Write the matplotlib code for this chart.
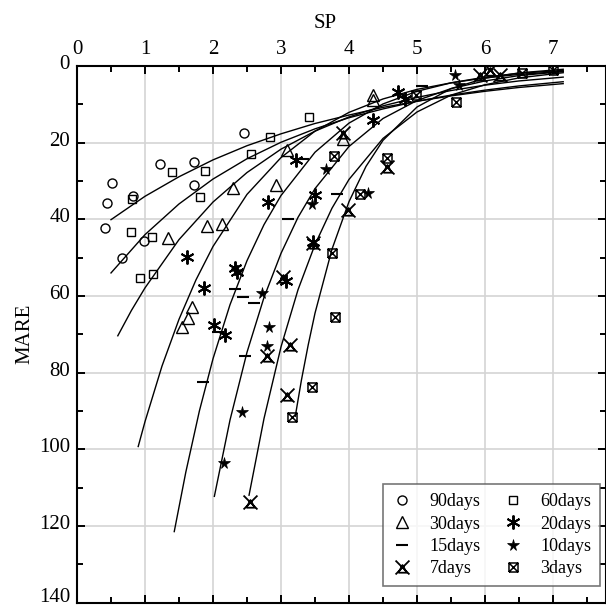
import numpy as np
import matplotlib
matplotlib.use("Agg")
import matplotlib.pyplot as plt
from matplotlib.path import Path
from matplotlib.transforms import ScaledTranslation

plt.rcParams['font.family'] = ['Liberation Serif', 'DejaVu Serif']
plt.rcParams['mathtext.fontset'] = 'stix'

# scatter data (SP, MARE)
sp_90 = [0.41, 0.44, 0.51, 0.66, 0.82, 0.99, 1.22, 1.72, 1.72, 2.46]
mare_90 = [42.2, 35.7, 30.5, 50.0, 33.9, 45.6, 25.5, 25.0, 31.0, 17.5]

sp_60 = [0.79, 0.81, 0.93, 1.10, 1.12, 1.40, 1.81, 1.88, 2.56, 2.84, 3.41]
mare_60 = [43.2, 34.7, 55.3, 44.5, 54.3, 27.6, 34.2, 27.4, 22.9, 18.5, 13.3]

sp_30 = [1.34, 1.54, 1.63, 1.69, 1.91, 2.13, 2.29, 2.93, 3.09, 3.91, 4.36, 4.36]
mare_30 = [44.9, 68.0, 65.8, 62.8, 41.7, 41.2, 31.8, 31.0, 21.9, 19.0, 7.5, 9.0]

sp_20 = [1.62, 1.87, 2.01, 2.18, 2.32, 2.35, 2.81, 3.07, 3.22, 3.47, 3.50, 4.36, 4.72, 4.82]
mare_20 = [49.8, 57.9, 67.5, 70.1, 52.7, 53.7, 35.5, 56.0, 24.5, 46.0, 33.6, 14.1, 6.8, 8.6]

sp_15 = [1.85, 2.07, 2.32, 2.44, 2.47, 2.60, 3.10, 3.33, 3.82, 5.07]
mare_15 = [82.4, 69.3, 58.2, 60.2, 75.6, 61.8, 39.9, 24.3, 33.4, 5.2]

sp_10 = [2.16, 2.43, 2.72, 2.79, 2.82, 3.46, 3.66, 4.28, 5.56, 5.62]
mare_10 = [103.5, 90.2, 59.2, 73.0, 68.0, 36.0, 26.9, 33.1, 2.3, 5.0]

sp_7 = [2.54, 2.79, 3.03, 3.09, 3.13, 3.47, 3.91, 3.99, 4.56, 5.93, 6.07, 6.22]
mare_7 = [113.9, 75.8, 55.0, 85.8, 72.7, 46.1, 17.5, 37.5, 26.3, 2.3, 1.0, 2.3]

sp_3 = [3.16, 3.45, 3.75, 3.79, 3.78, 4.16, 4.56, 4.99, 5.57, 6.54, 7.0]
mare_3 = [91.5, 83.7, 48.8, 65.5, 23.5, 33.4, 24.0, 7.6, 9.3, 1.8, 1.0]

# fitted curves, points
fit_90_x = [0.5, 1.0, 1.5, 2.0, 2.5, 3.0, 3.5, 4.0, 4.5, 5.0, 5.5, 6.0, 6.5, 7.15]
fit_90_y = [40.1, 34.0, 28.9, 24.5, 20.8, 17.7, 15.0, 12.8, 10.8, 9.2, 7.8, 6.6, 5.6, 4.6]

fit_60_x = [0.5, 1.0, 1.5, 2.0, 2.5, 3.0, 3.5, 4.0, 4.5, 5.0, 5.5, 6.0, 6.5, 7.15]
fit_60_y = [54.0, 44.0, 36.0, 29.5, 24.2, 19.9, 16.4, 13.5, 11.2, 9.2, 7.6, 6.3, 5.2, 4.1]

fit_30_x = [0.6, 0.8, 1.0, 1.5, 2.0, 2.5, 3.0, 3.5, 4.0, 4.5, 5.0, 5.5, 6.0, 6.5, 7.15]
fit_30_y = [70.4, 63.8, 57.9, 45.3, 35.5, 27.8, 21.7, 17.0, 13.3, 10.4, 8.2, 6.4, 5.0, 3.9, 2.9]

fit_20_x = [0.9, 1.0, 1.25, 1.5, 1.75, 2.0, 2.5, 3.0, 3.5, 4.0, 4.5, 5.0, 5.5, 6.0, 6.5, 7.15]
fit_20_y = [99.3, 92.8, 78.3, 66.1, 55.8, 47.1, 33.5, 23.9, 17.0, 12.1, 8.6, 6.1, 4.4, 3.1, 2.2, 1.4]

fit_15_x = [1.43, 1.6, 1.8, 2.0, 2.25, 2.5, 2.75, 3.0, 3.5, 4.0, 4.5, 5.0, 5.5, 6.0, 6.5, 7.15]
fit_15_y = [121.5, 106.0, 90.0, 76.4, 62.3, 50.8, 41.4, 33.8, 22.5, 14.9, 9.9, 6.6, 4.4, 2.9, 1.9, 1.15]

fit_10_x = [2.02, 2.25, 2.5, 2.75, 3.0, 3.25, 3.5, 4.0, 4.5, 5.0, 5.5, 6.0, 6.5, 7.15]
fit_10_y = [112.3, 92.4, 74.7, 60.4, 48.9, 39.5, 32.0, 21.0, 13.7, 9.0, 5.9, 3.9, 2.5, 1.45]

fit_7_x = [2.53, 2.75, 3.0, 3.25, 3.5, 3.75, 4.0, 4.5, 5.0, 5.5, 6.0, 6.5, 7.15]
fit_7_y = [112.0, 92.0, 73.3, 58.4, 46.6, 37.1, 29.6, 18.9, 12.0, 7.6, 4.9, 3.1, 1.75]

fit_3_x = [3.21, 3.3, 3.4, 3.5, 3.75, 4.0, 4.25, 4.5, 5.0, 5.5, 6.0, 6.5, 7.15]
fit_3_y = [91.4, 82.0, 72.8, 64.5, 47.8, 35.4, 26.2, 19.4, 10.7, 5.9, 3.2, 1.8, 0.85]

x_ticks = [0, 1, 2, 3, 4, 5, 6, 7]
y_ticks = [0, 20, 40, 60, 80, 100, 120, 140]

# custom marker shapes
M, L = Path.MOVETO, Path.LINETO
crossed_sq = Path([(-1, -1), (1, -1), (1, 1), (-1, 1), (-1, -1),
                   (-1, -1), (1, 1), (-1, 1), (1, -1)],
                  [M, L, L, L, L, M, L, M, L])
x_tri = Path([(-1, -1), (1, 1), (-1, 1), (1, -1),
              (-0.6, -0.75), (0.6, -0.75), (0, 0.35), (-0.6, -0.75)],
             [M, L, M, L, M, L, L, L])

fig = plt.figure(figsize=(6.06, 6.09), dpi=100)
ax = fig.add_axes([77 / 606, 6.5 / 609, 529 / 606, 536.5 / 609])

curves = [(fit_90_x, fit_90_y), (fit_60_x, fit_60_y), (fit_30_x, fit_30_y),
          (fit_20_x, fit_20_y), (fit_15_x, fit_15_y), (fit_10_x, fit_10_y),
          (fit_7_x, fit_7_y), (fit_3_x, fit_3_y)]
for cx, cy in curves:
    ax.plot(cx, cy, color='black', lw=1.0, zorder=3)

kw = dict(linestyle='none', color='black', zorder=4)
ax.plot(sp_90, mare_90, marker='o', ms=6.5, mfc='none', mew=1.0, label='90days', **kw)
ax.plot(sp_60, mare_60, marker='s', ms=6, mfc='none', mew=1.0, label='60days', **kw)
ax.plot(sp_30, mare_30, marker='^', ms=8.5, mfc='none', mew=1.0, label='30days', **kw)
ax.plot(sp_20, mare_20, marker=(6, 2, 0), ms=10, mew=1.4, label='20days', **kw)
ax.plot(sp_15, mare_15, marker='_', ms=8, mew=1.5, label='15days', **kw)
ax.plot(sp_10, mare_10, marker='*', ms=8.5, mew=0.5, label='10days', **kw)
ax.plot(sp_7, mare_7, marker=x_tri, ms=10, mfc='none', mew=1.3, label='7days', **kw)
ax.plot(sp_3, mare_3, marker=crossed_sq, ms=6.5, mfc='none', mew=1.1, label='3days', **kw)

ax.set_xlim(0, 529 / 68)
ax.set_ylim(140, 0)
ax.set_xticks(x_ticks)
ax.set_xticks(np.arange(0.5, 8, 1.0), minor=True)
ax.set_yticks(y_ticks)
ax.set_yticks(np.arange(10, 140, 20), minor=True)

ax.grid(True, which='major', color='#d4d4d4', lw=1.2, zorder=0)
ax.set_axisbelow(True)

ax.tick_params(which='both', direction='in', top=True, bottom=True, left=True, right=True,
               labeltop=True, labelbottom=False, labelsize=15, width=1.4)
ax.tick_params(which='major', length=6, pad=5)
ax.tick_params(which='minor', length=4)
ax.xaxis.set_label_position('top')
ax.set_xlabel('SP', fontsize=15)
ax.xaxis.set_label_coords(0.469, 1.07)
ax.set_ylabel('MARE', fontsize=15)
ax.yaxis.set_label_coords(-0.08, 0.5)
for s in ax.spines.values():
    s.set_linewidth(1.5)

# y labels sit a touch above their ticks in the reference
ylabels = ax.get_yticklabels()
for i, t in enumerate(ylabels):
    up = 7 if i == len(ylabels) - 1 else 4
    t.set_transform(t.get_transform() + ScaledTranslation(0, up / 100, fig.dpi_scale_trans))

order = [0, 2, 4, 6, 1, 3, 5, 7]
h, lab = ax.get_legend_handles_labels()
leg = ax.legend([h[i] for i in order], [lab[i] for i in order], ncol=2,
                loc='lower right', bbox_to_anchor=(0.989, 0.03), borderaxespad=0,
                fontsize=13, frameon=True, fancybox=False, edgecolor='#555555',
                handlelength=1.2, handletextpad=0.9, columnspacing=1.2,
                labelspacing=0.3, borderpad=0.5)
leg.get_frame().set_linewidth(1.2)

fig.savefig('out.png', dpi=100)
